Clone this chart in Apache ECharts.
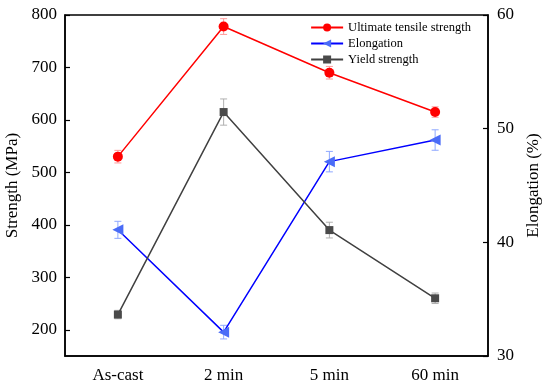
<!DOCTYPE html>
<html><head><meta charset="utf-8">
<script src="https://cdn.jsdelivr.net/npm/echarts@6/dist/echarts.min.js"></script>
<style>html,body{margin:0;padding:0;background:#fff}#c{width:550px;height:387px}</style>
</head><body><div id="c"></div>
<script>
const categories = ['As-cast', '2 min', '5 min', '60 min'];
const utsValues = [530, 778, 690, 615];
const utsErrors = [12, 15, 12, 10];
const yieldValues = [229, 615, 390, 260];
const yieldErrors = [8, 25, 15, 10];
const elongValues = [41.1, 32.1, 47.1, 49.0];
const elongErrors = [0.75, 0.6, 0.9, 0.9];
const leftTicks = [200, 300, 400, 500, 600, 700, 800];

const font = 'Liberation Serif, Times New Roman, serif';

function errSeries(vals, errs, yIdx, color) {
  return {
    type: 'custom', yAxisIndex: yIdx, z: 1, silent: true,
    data: vals.map((v, i) => [i, v - errs[i], v + errs[i]]),
    renderItem: function (params, api) {
      const lo = api.coord([api.value(0), api.value(1)]);
      const hi = api.coord([api.value(0), api.value(2)]);
      const w = 3.5;
      const st = { stroke: color, lineWidth: 1 };
      return { type: 'group', children: [
        { type: 'line', shape: { x1: lo[0], y1: lo[1], x2: hi[0], y2: hi[1] }, style: st },
        { type: 'line', shape: { x1: lo[0] - w, y1: lo[1], x2: lo[0] + w, y2: lo[1] }, style: st },
        { type: 'line', shape: { x1: hi[0] - w, y1: hi[1], x2: hi[0] + w, y2: hi[1] }, style: st }
      ]};
    }
  };
}

const chart = echarts.init(document.getElementById('c'));
chart.setOption({
  animation: false,
  textStyle: { fontFamily: font },
  grid: { left: 65, right: 62, top: 15, bottom: 31, outerBoundsMode: 'none', containLabel: false,
    show: true, borderColor: '#000', borderWidth: 1.5, backgroundColor: 'transparent' },
  legend: {
    data: ['Ultimate tensile strength', 'Elongation', 'Yield strength'],
    orient: 'vertical', right: 74, top: 16, itemGap: 3, itemWidth: 32, itemHeight: 10,
    textStyle: { fontFamily: font, fontSize: 12.5, color: '#000' }
  },
  xAxis: {
    type: 'category', data: categories, boundaryGap: true,
    axisLine: { lineStyle: { color: '#000', width: 1.5 } },
    axisTick: { inside: true, alignWithLabel: true, length: 5, lineStyle: { color: '#000', width: 1.2 } },
    axisLabel: { fontFamily: font, fontSize: 17, color: '#000', margin: 11 },
    splitLine: { show: false }
  },
  yAxis: [{
    type: 'value', min: 150, max: 800, position: 'left',
    name: 'Strength (MPa)', nameLocation: 'middle', nameGap: 41, nameRotate: 90,
    nameTextStyle: { fontFamily: font, fontSize: 17, color: '#000' },
    axisLine: { show: true, lineStyle: { color: '#000', width: 1.5 } },
    axisTick: { show: true, inside: true, length: 5, customValues: leftTicks, lineStyle: { color: '#000', width: 1.2 } },
    axisLabel: { fontFamily: font, fontSize: 17, color: '#000', margin: 8, customValues: leftTicks },
    splitLine: { show: false }
  }, {
    type: 'value', min: 30, max: 60, interval: 10, position: 'right',
    name: 'Elongation (%)', nameLocation: 'middle', nameGap: 37, nameRotate: 90,
    nameTextStyle: { fontFamily: font, fontSize: 17, color: '#000' },
    axisLine: { show: true, lineStyle: { color: '#000', width: 1.5 } },
    axisTick: { show: true, inside: true, length: 5, lineStyle: { color: '#000', width: 1.2 } },
    axisLabel: { fontFamily: font, fontSize: 17, color: '#000', margin: 9 },
    splitLine: { show: false }
  }],
  series: [
    errSeries(utsValues, utsErrors, 0, '#ff9a9a'),
    errSeries(yieldValues, yieldErrors, 0, '#b0b0b0'),
    errSeries(elongValues, elongErrors, 1, '#8fa8ff'),
    {
      name: 'Ultimate tensile strength', type: 'line', yAxisIndex: 0, data: utsValues, z: 3,
      symbol: 'circle', symbolSize: 10, lineStyle: { color: '#ff0000', width: 1.5 },
      itemStyle: { color: '#ff0000' }
    },
    {
      name: 'Elongation', type: 'line', yAxisIndex: 1, data: elongValues, z: 3,
      symbol: 'triangle', symbolSize: 11, symbolRotate: 90, lineStyle: { color: '#0000ff', width: 1.5 },
      itemStyle: { color: '#4a6cf7' }
    },
    {
      name: 'Yield strength', type: 'line', yAxisIndex: 0, data: yieldValues, z: 3,
      symbol: 'rect', symbolSize: 8, lineStyle: { color: '#404040', width: 1.5 },
      itemStyle: { color: '#4a4a4a' }
    }
  ]
});
</script>
</body></html>
